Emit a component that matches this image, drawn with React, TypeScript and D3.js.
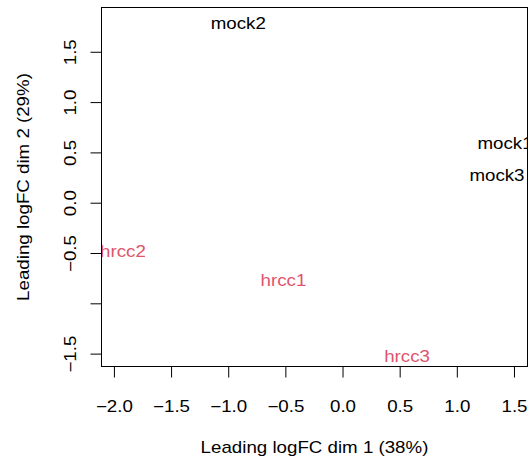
import React from 'react'
import * as d3 from 'd3'

// MDS sample coordinates
const samples = ['mock2', 'mock1', 'mock3', 'hrcc2', 'hrcc1', 'hrcc3']
const dim1 = [-0.916, 1.417, 1.347, -1.925, -0.521, 0.56]
const dim2 = [1.793, 0.6, 0.278, -0.473, -0.766, -1.519]
const groups = ['mock', 'mock', 'mock', 'hrcc', 'hrcc', 'hrcc']
const groupColors: { [k: string]: string } = { mock: '#000000', hrcc: '#DF536B' }

const xTicks = [-2.0, -1.5, -1.0, -0.5, 0.0, 0.5, 1.0, 1.5]
const xTickLabels = ['\u22122.0', '\u22121.5', '\u22121.0', '\u22120.5', '0.0', '0.5', '1.0', '1.5']
const yTicks = [-1.5, -1.0, -0.5, 0.0, 0.5, 1.0, 1.5]
// R drops the -1.0 label because it would overlap its neighbours
const yTickLabels = ['\u22121.5', '', '\u22120.5', '0.0', '0.5', '1.0', '1.5']

const xDomain = [-2.113, 1.614]
const yDomain = [-1.623, 1.945]

const xTitle = 'Leading logFC dim 1 (38%)'
const yTitle = 'Leading logFC dim 2 (29%)'

const width = 529
const height = 459
const box = { left: 101.5, right: 527.5, top: 7.5, bottom: 366.5 }
const fontSize = 16
const SX = 1.17 // the reference font runs a bit wide

const x = d3.scaleLinear().domain(xDomain).range([box.left, box.right])
const y = d3.scaleLinear().domain(yDomain).range([box.bottom, box.top])

interface TProps {
    x: number
    y: number
    rot?: number
    fill?: string
    dy?: string
    children: React.ReactNode
}

const T = ({ x, y, rot = 0, fill = '#000', dy, children }: TProps) => (
    <text transform={`translate(${x},${y}) rotate(${rot}) scale(${SX},1)`}
          textAnchor="middle" fill={fill} dy={dy}>
        {children}
    </text>
)

export default function App() {
    return (
        <svg width={width} height={height}
             style={{ position: 'absolute', left: 0, top: 0, background: '#fff' }}
             fontFamily='"Liberation Sans", Arial, Helvetica, sans-serif' fontSize={fontSize}>
            <defs>
                <clipPath id="plot-clip">
                    <rect x={box.left} y={box.top} width={box.right - box.left} height={box.bottom - box.top} />
                </clipPath>
            </defs>
            <rect x={0} y={0} width={width} height={height} fill="#fff" />

            {/* sample labels */}
            <g clipPath="url(#plot-clip)">
                {samples.map((s, i) => (
                    <T key={s} x={x(dim1[i])} y={y(dim2[i])} dy="0.36em" fill={groupColors[groups[i]]}>{s}</T>
                ))}
            </g>

            <rect x={box.left} y={box.top} width={box.right - box.left} height={box.bottom - box.top}
                  fill="none" stroke="#000" strokeWidth={1} />

            {/* x axis */}
            {xTicks.map((t, i) => (
                <g key={`xt-${i}`}>
                    <line x1={x(t)} x2={x(t)} y1={box.bottom} y2={box.bottom + 11} stroke="#000" />
                    <T x={x(t)} y={412}>{xTickLabels[i]}</T>
                </g>
            ))}

            {/* y axis */}
            {yTicks.map((t, i) => (
                <g key={`yt-${i}`}>
                    <line x1={box.left - 11} x2={box.left} y1={y(t)} y2={y(t)} stroke="#000" />
                    {yTickLabels[i] && <T x={76} y={y(t)} rot={-90}>{yTickLabels[i]}</T>}
                </g>
            ))}

            <T x={(box.left + box.right) / 2} y={452.5}>{xTitle}</T>
            <T x={28.5} y={(box.top + box.bottom) / 2} rot={-90}>{yTitle}</T>
        </svg>
    )
}
